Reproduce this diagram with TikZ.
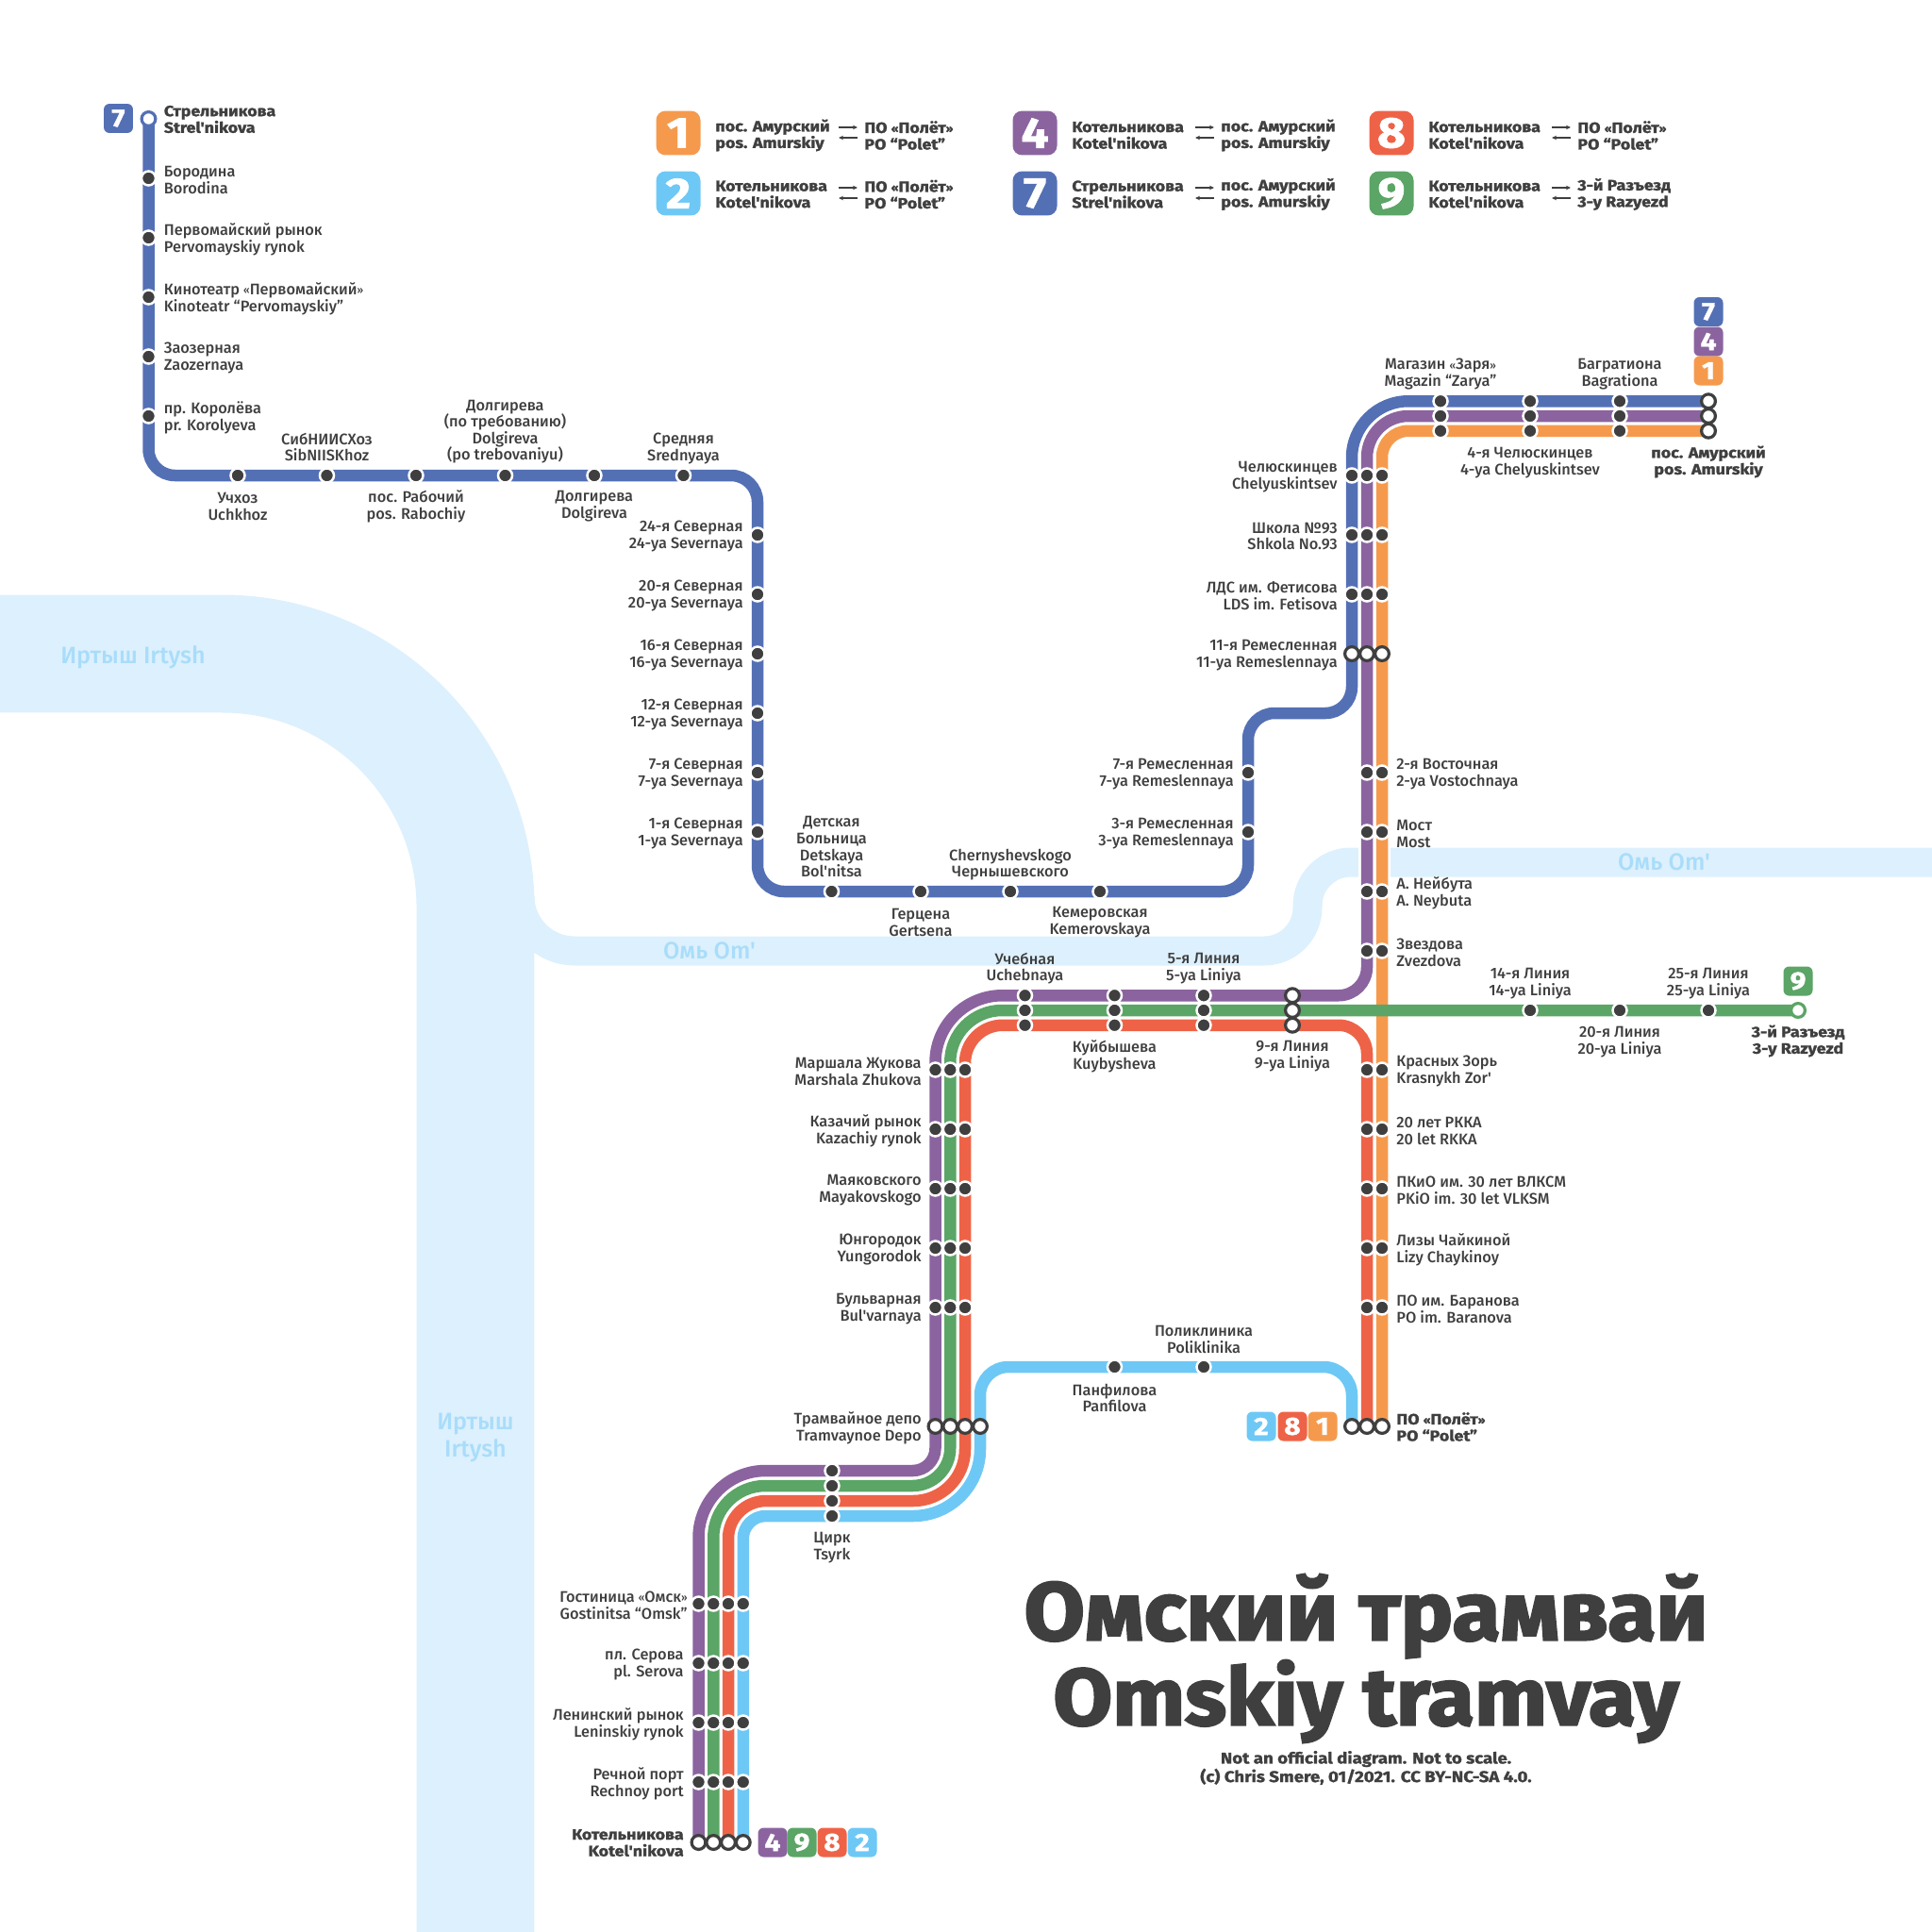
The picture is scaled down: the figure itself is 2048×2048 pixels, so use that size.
\documentclass[tikz,border=0pt]{standalone}
\usepackage{fontspec}
\newfontfamily\namefont{Fira Sans Medium}
\newfontfamily\heavyfont[FakeBold=1.5,FakeStretch=1.13]{Fira Sans Bold}
\newfontfamily\titlefont[FakeBold=2.5,FakeStretch=1.07]{Fira Sans Bold}
\setmainfont{Fira Sans Medium}
\newcommand{\gopen}{\raisebox{0.4pt}{\fontsize{6.2}{10}\selectfont «}}
\newcommand{\gclose}{\raisebox{0.4pt}{\fontsize{6.2}{10}\selectfont »}}
\usetikzlibrary{arrows.meta,backgrounds,positioning}
\definecolor{lineblue}{HTML}{5470B5}
\definecolor{linepurple}{HTML}{8B649F}
\definecolor{lineorange}{HTML}{F59A4D}
\definecolor{linesky}{HTML}{6EC8F5}
\definecolor{linered}{HTML}{EE6347}
\definecolor{linegreen}{HTML}{5BA566}
\definecolor{inkgrey}{HTML}{3F3F3F}
\definecolor{riverblue}{HTML}{DDF0FD}
\definecolor{rivertext}{HTML}{A8DDFA}

\begin{document}
\begin{tikzpicture}[x=0.02cm,y=-0.02cm,
		stopdot/.style={circle, fill=inkgrey, draw=white, line width=0.05cm, minimum size=0.3cm, inner sep=0pt},
		endstop/.style={circle, fill=white, draw=inkgrey, line width=0.064cm, minimum size=0.296cm, inner sep=0pt},
		stationname/.style={inner sep=0pt, yshift=-0.035cm, text=inkgrey, font=\namefont\fontsize{9.3}{10}\selectfont},
		nameleft/.style={stationname, anchor=east, align=right},
		nameright/.style={stationname, anchor=west, align=left},
		nameup/.style={stationname, align=center},
		heavyname/.style={yshift=0.025cm, font=\heavyfont\fontsize{9}{10}\selectfont},
		tram/.style={line width=0.25cm},
		river/.style={draw=riverblue, line width=0.62cm},
		rivername/.style={inner sep=0pt, align=center, text=rivertext, font=\namefont\fontsize{14.3}{16}\selectfont},
		badge/.style={fill=#1, text=white, rounded corners=0.12cm, minimum size=0.62cm, inner sep=0pt, font=\heavyfont\fontsize{15}{15}\selectfont},
		bigbadge/.style={fill=#1, text=white, rounded corners=0.2cm, minimum size=0.94cm, inner sep=0pt, font=\heavyfont\fontsize{26}{26}\selectfont},
		legendname/.style={inner sep=0pt, anchor=west, align=left, text=inkgrey, font=\heavyfont\fontsize{9}{10}\selectfont},
		flow/.style={-{Stealth[length=0.1cm,width=0.09cm]}, inkgrey, line width=0.04cm}
		]
	
	\useasboundingbox (0,0) rectangle (2048,2048);
	
	% line 7, north branch
	\node[endstop, draw=lineblue] (strel) at (157.5,126) {};
	\foreach \n/\p in {borod/189,perv/252,kino/315,zaoz/378,korol/441}
		\node[stopdot] (\n) at (157.5,\p) {};
	\foreach \n/\p in {uch/252,sib/346.5,rab/441,dolgb/535.5,dolg/630,sred/724.5}
		\node[stopdot] (\n) at (\p,504) {};
	\foreach \n/\p in {seva/567,sevb/630,sevc/693,sevd/756,seve/819,sevf/882}
		\node[stopdot] (\n) at (803,\p) {};
	\foreach \n/\p in {det/881.5,ger/976,che/1071,kem/1166}
		\node[stopdot] (\n) at (\p,945) {};
	\foreach \n/\p in {remb/819,remc/882}
		\node[stopdot] (\n) at (1323,\p) {};
	
	% north-east trunk
	\foreach \n/\p in {a/504,b/567,c/630}{
		\node[stopdot] (nb\n) at (1433,\p) {};
		\node[stopdot] (np\n) at (1449,\p) {};
		\node[stopdot] (no\n) at (1465,\p) {};
	}
	\node[endstop] (rema) at (1433,693) {};
	\node[endstop] (remp) at (1449,693) {};
	\node[endstop] (remo) at (1465,693) {};
	\foreach \n/\p in {a/1527,b/1622,c/1717}{
		\node[stopdot] (tb\n) at (\p,425.25) {};
		\node[stopdot] (tp\n) at (\p,441) {};
		\node[stopdot] (to\n) at (\p,456.75) {};
	}
	\node[endstop] (amb) at (1811,425.25) {};
	\node[endstop] (amp) at (1811,441) {};
	\node[endstop] (amo) at (1811,456.75) {};
	\foreach \n/\p in {a/819,b/882,c/945,d/1008}{
		\node[stopdot] (mp\n) at (1449,\p) {};
		\node[stopdot] (mo\n) at (1465,\p) {};
	}
	
	% cross line 9
	\foreach \n/\p in {a/1086.5,b/1181.5,c/1276}{
		\node[stopdot] (xp\n) at (\p,1055.25) {};
		\node[stopdot] (xg\n) at (\p,1071) {};
		\node[stopdot] (xr\n) at (\p,1086.75) {};
	}
	\node[endstop] (lnp) at (1370,1055.25) {};
	\node[endstop] (lng) at (1370,1071) {};
	\node[endstop] (lnr) at (1370,1086.75) {};
	\foreach \n/\p in {la/1622,lb/1717,lc/1811}
		\node[stopdot] (\n) at (\p,1071) {};
	\node[endstop, draw=linegreen] (razd) at (1906,1071) {};
	
	% south trunks
	\foreach \n/\p in {a/1134,b/1197,c/1260,d/1323,e/1386}{
		\node[stopdot] (wp\n) at (991.5,\p) {};
		\node[stopdot] (wg\n) at (1007.25,\p) {};
		\node[stopdot] (wr\n) at (1023,\p) {};
		\node[stopdot] (er\n) at (1449,\p) {};
		\node[stopdot] (eo\n) at (1465,\p) {};
	}
	\node[endstop] (depp) at (991.5,1512) {};
	\node[endstop] (depg) at (1007.25,1512) {};
	\node[endstop] (depr) at (1023,1512) {};
	\node[endstop] (deps) at (1039,1512) {};
	\node[endstop] (pols) at (1433,1512) {};
	\node[endstop] (polr) at (1449,1512) {};
	\node[endstop] (polo) at (1465,1512) {};
	\node[stopdot] (panf) at (1181.5,1449) {};
	\node[stopdot] (polk) at (1276,1449) {};
	\node[stopdot] (cirp) at (882,1559) {};
	\node[stopdot] (cirg) at (882,1575) {};
	\node[stopdot] (cirr) at (882,1591) {};
	\node[stopdot] (cirs) at (882,1607) {};
	\foreach \n/\p in {a/1700,b/1763,c/1826,d/1889}{
		\node[stopdot] (sp\n) at (740.5,\p) {};
		\node[stopdot] (sg\n) at (756.25,\p) {};
		\node[stopdot] (sr\n) at (772,\p) {};
		\node[stopdot] (ss\n) at (787.75,\p) {};
	}
	\node[endstop] (kotp) at (740.5,1953) {};
	\node[endstop] (kotg) at (756.25,1953) {};
	\node[endstop] (kotr) at (772,1953) {};
	\node[endstop] (kots) at (787.75,1953) {};
	
	% corners of the lines
	\coordinate (ba) at (157.5,504);
	\coordinate (bb) at (803,504);
	\coordinate (bc) at (803,945);
	\coordinate (bd) at (1323,945);
	\coordinate (be) at (1323,756);
	\coordinate (bf) at (1433,756);
	\coordinate (bg) at (1433,425.25);
	\coordinate (pa) at (1449,441);
	\coordinate (pb) at (1449,1055.25);
	\coordinate (pc) at (991.5,1055.25);
	\coordinate (pd) at (991.5,1559);
	\coordinate (pe) at (740.5,1559);
	\coordinate (oa) at (1465,456.75);
	\coordinate (ga) at (1007.25,1071);
	\coordinate (gb) at (1007.25,1575);
	\coordinate (gc) at (756.25,1575);
	\coordinate (ra) at (1449,1086.75);
	\coordinate (rb) at (1023,1086.75);
	\coordinate (rc) at (1023,1591);
	\coordinate (rd) at (772,1591);
	\coordinate (sa) at (1433,1449);
	\coordinate (sb) at (1039,1449);
	\coordinate (sc) at (1039,1607);
	\coordinate (sd) at (787.75,1607);
	\coordinate (gapa) at (1457,860);
	\coordinate (gapb) at (1457,960);
	
	\begin{scope}[on background layer]
		% rivers
		\draw[river, rounded corners=1.16cm] (551,950) -- (551,1008) [rounded corners=0.92cm] -- (1386,1008) -- (1386,914) -- (2048,914);
		\draw[river, line width=2.5cm, rounded corners=5.37cm] (0,693) -- (504,693) -- (504,2048);
		\draw[white, line width=0.68cm] (gapa) -- (gapb);
		% lines
		\draw[tram, lineblue] (strel.center) [rounded corners=0.56cm] -- (ba) -- (bb) -- (bc) -- (bd) -- (be) -- (bf) [rounded corners=1.2cm] -- (bg) -- (amb.center);
		\draw[tram, lineorange] (amo.center) [rounded corners=0.56cm] -- (oa) -- (polo.center);
		\draw[tram, linepurple] (amp.center) [rounded corners=0.88cm] -- (pa) [rounded corners=0.6cm] -- (pb) [rounded corners=1.42cm] -- (pc) [rounded corners=0.48cm] -- (pd) [rounded corners=1.42cm] -- (pe) -- (kotp.center);
		\draw[tram, linered] (polr.center) [rounded corners=0.6cm] -- (ra) [rounded corners=0.8cm] -- (rb) [rounded corners=1.1cm] -- (rc) [rounded corners=0.8cm] -- (rd) -- (kotr.center);
		\draw[tram, linesky] (pols.center) [rounded corners=0.6cm] -- (sa) -- (sb) [rounded corners=1.42cm] -- (sc) [rounded corners=0.48cm] -- (sd) -- (kots.center);
		\draw[tram, linegreen] (razd.center) [rounded corners=1.1cm] -- (ga) [rounded corners=0.8cm] -- (gb) [rounded corners=1.1cm] -- (gc) -- (kotg.center);
	\end{scope}
	
	% river names
	\node[rivername] (irta) at (141,697) {Иртыш Irtysh};
	\node[rivername] (irtb) at (504,1524) {Иртыш\\Irtysh};
	\node[rivername] (oma) at (752,1008) {Омь Om'};
	\node[rivername] (omb) at (1764,914) {Омь Om'};
	
	% station names, line 7
	\node[nameright, heavyname] (tstrel) at (173.5,126) {Стрельникова\\Strel'nikova};
	\node[nameright] (tborod) at (173.5,189) {Бородина\\Borodina};
	\node[nameright] (tperv) at (173.5,252) {Первомайский рынок\\Pervomayskiy rynok};
	\node[nameright] (tkino) at (173.5,315) {Кинотеатр \gopen Первомайский\gclose\\Kinoteatr “Pervomayskiy”};
	\node[nameright] (tzaoz) at (173.5,378) {Заозерная\\Zaozernaya};
	\node[nameright] (tkorol) at (173.5,441) {пр. Королёва\\pr. Korolyeva};
	\node[nameup] (tuch) at (252,535) {Учхоз\\Uchkhoz};
	\node[nameup] (tsib) at (346.5,472) {СибНИИСХоз\\SibNIISKhoz};
	\node[nameup] (trab) at (441,535) {пос. Рабочий\\pos. Rabochiy};
	\node[nameup] (tdolgb) at (535.5,456) {Долгирева\\(по требованию)\\Dolgireva\\(po trebovaniyu)};
	\node[nameup] (tdolg) at (630,535) {Долгирева\\Dolgireva};
	\node[nameup] (tsred) at (724.5,474) {Средняя\\Srednyaya};
	\node[nameleft] (tseva) at (788,567) {24-я Северная\\24-ya Severnaya};
	\node[nameleft] (tsevb) at (788,630) {20-я Северная\\20-ya Severnaya};
	\node[nameleft] (tsevc) at (788,693) {16-я Северная\\16-ya Severnaya};
	\node[nameleft] (tsevd) at (788,756) {12-я Северная\\12-ya Severnaya};
	\node[nameleft] (tseve) at (788,819) {7-я Северная\\7-ya Severnaya};
	\node[nameleft] (tsevf) at (788,882) {1-я Северная\\1-ya Severnaya};
	\node[nameup] (tdet) at (881.5,896) {Детская\\Больница\\Detskaya\\Bol'nitsa};
	\node[nameup] (tger) at (976,976) {Герцена\\Gertsena};
	\node[nameup] (tche) at (1071,915) {Chernyshevskogo\\Чернышевского};
	\node[nameup] (tkem) at (1166,976) {Кемеровская\\Kemerovskaya};
	\node[nameleft] (tremb) at (1308,819) {7-я Ремесленная\\7-ya Remeslennaya};
	\node[nameleft] (tremc) at (1308,882) {3-я Ремесленная\\3-ya Remeslennaya};
	
	% north-east trunk
	\node[nameleft] (tna) at (1418,504) {Челюскинцев\\Chelyuskintsev};
	\node[nameleft] (tnb) at (1418,567) {Школа №93\\Shkola No.93};
	\node[nameleft] (tnc) at (1418,630) {ЛДС им. Фетисова\\LDS im. Fetisova};
	\node[nameleft] (trem) at (1418,693) {11-я Ремесленная\\11-ya Remeslennaya};
	\node[nameup] (tta) at (1527,395) {Магазин \gopen Заря\gclose\\Magazin “Zarya”};
	\node[nameup] (ttb) at (1622,489) {4-я Челюскинцев\\4-ya Chelyuskintsev};
	\node[nameup] (ttc) at (1717,395) {Багратиона\\Bagrationa};
	\node[nameup, heavyname] (tam) at (1811,489) {пос. Амурский\\pos. Amurskiy};
	\node[nameright] (tma) at (1480,819) {2-я Восточная\\2-ya Vostochnaya};
	\node[nameright] (tmb) at (1480,882) {Мост\\Most};
	\node[nameright] (tmc) at (1480,945) {А. Нейбута\\A. Neybuta};
	\node[nameright] (tmd) at (1480,1008) {Звездова\\Zvezdova};
	
	% cross line 9
	\node[nameup] (txa) at (1086.5,1025) {Учебная\\Uchebnaya};
	\node[nameup] (txb) at (1181.5,1118) {Куйбышева\\Kuybysheva};
	\node[nameup] (txc) at (1276,1025) {5-я Линия\\5-ya Liniya};
	\node[nameup] (tln) at (1370,1118) {9-я Линия\\9-ya Liniya};
	\node[nameup] (tla) at (1622,1041) {14-я Линия\\14-ya Liniya};
	\node[nameup] (tlb) at (1717,1103) {20-я Линия\\20-ya Liniya};
	\node[nameup] (tlc) at (1811,1041) {25-я Линия\\25-ya Liniya};
	\node[nameup, heavyname] (trazd) at (1906,1103) {3-й Разъезд\\3-y Razyezd};
	
	% south trunks
	\node[nameleft] (twa) at (977,1134) {Маршала Жукова\\Marshala Zhukova};
	\node[nameleft] (twb) at (977,1197) {Казачий рынок\\Kazachiy rynok};
	\node[nameleft] (twc) at (977,1260) {Маяковского\\Mayakovskogo};
	\node[nameleft] (twd) at (977,1323) {Юнгородок\\Yungorodok};
	\node[nameleft] (twe) at (977,1386) {Бульварная\\Bul'varnaya};
	\node[nameleft] (tdep) at (977,1512) {Трамвайное депо\\Tramvaynoe Depo};
	\node[nameright] (tea) at (1480,1134) {Красных Зорь\\Krasnykh Zor'};
	\node[nameright] (teb) at (1480,1197) {20 лет РККА\\20 let RKKA};
	\node[nameright] (tec) at (1480,1260) {ПКиО им. 30 лет ВЛКСМ\\PKiO im. 30 let VLKSM};
	\node[nameright] (ted) at (1480,1323) {Лизы Чайкиной\\Lizy Chaykinoy};
	\node[nameright] (tee) at (1480,1386) {ПО им. Баранова\\PO im. Baranova};
	\node[nameright, heavyname] (tpol) at (1480,1512) {ПО \gopen Полёт\gclose\\PO “Polet”};
	\node[nameup] (tpanf) at (1181.5,1480) {Панфилова\\Panfilova};
	\node[nameup] (tpolk) at (1276,1418) {Поликлиника\\Poliklinika};
	\node[nameup] (tcir) at (882,1639) {Цирк\\Tsyrk};
	\node[nameleft] (tsa) at (729,1700) {Гостиница \gopen Омск\gclose\\Gostinitsa “Omsk”};
	\node[nameleft] (tsb) at (725,1763) {пл. Серова\\pl. Serova};
	\node[nameleft] (tsc) at (725,1826) {Ленинский рынок\\Leninskiy rynok};
	\node[nameleft] (tsd) at (725,1889) {Речной порт\\Rechnoy port};
	\node[nameleft, heavyname] (tkot) at (725,1953) {Котельникова\\Kotel'nikova};
	
	% small badges
	\node[badge=lineblue] (ba7) at (125.5,125.5) {7};
	\node[badge=lineblue] (bt7) at (1811,330.5) {7};
	\node[badge=linepurple] (bt4) at (1811,362) {4};
	\node[badge=lineorange] (bt1) at (1811,393) {1};
	\node[badge=linegreen] (br9) at (1906,1040) {9};
	\node[badge=linesky] (bp2) at (1337,1512) {2};
	\node[badge=linered] (bp8) at (1370,1512) {8};
	\node[badge=lineorange] (bp1) at (1402,1512) {1};
	\node[badge=linepurple] (bk4) at (819,1953) {4};
	\node[badge=linegreen] (bk9) at (850,1953) {9};
	\node[badge=linered] (bk8) at (882,1953) {8};
	\node[badge=linesky] (bk2) at (914,1953) {2};
	
	% legend
	\foreach \n/\c/\x/\p/\q/\ta/\tb/\ra/\rb in {
		1/lineorange/719/141/143.5/пос. Амурский/pos. Amurskiy/ПО \gopen Полёт\gclose/PO “Polet”,
		2/linesky/719/205/206/Котельникова/Kotel'nikova/ПО \gopen Полёт\gclose/PO “Polet”,
		4/linepurple/1097/141/143.5/Котельникова/Kotel'nikova/пос. Амурский/pos. Amurskiy,
		7/lineblue/1097/205/206/Стрельникова/Strel'nikova/пос. Амурский/pos. Amurskiy,
		8/linered/1475/141/143.5/Котельникова/Kotel'nikova/ПО \gopen Полёт\gclose/PO “Polet”,
		9/linegreen/1475/205/206/Котельникова/Kotel'nikova/3-й Разъезд/3-y Razyezd}{
		\node[bigbadge=\c] (leg\n) at (\x,\p) {\n};
		\node[legendname] (lega\n) at (\x+39,\q) {\ta\\\tb};
		\node[legendname] (legb\n) at (\x+197,\q) {\ra\\\rb};
		\coordinate (arra\n) at (\x+170,\p-6);
		\coordinate (arrb\n) at (\x+190,\p-6);
		\coordinate (arrc\n) at (\x+170,\p+5);
		\coordinate (arrd\n) at (\x+190,\p+5);
		\draw[flow] (arra\n) -- (arrb\n);
		\draw[flow] (arrd\n) -- (arrc\n);
	}
	
	% title
	\node[inner sep=0pt, align=center, text=inkgrey, font=\titlefont\fontsize{49.6}{50}\selectfont] (title) at (1448,1758) {Омский трамвай\\\fontsize{48.4}{50}\selectfont Omskiy tramvay};
	\node[inner sep=0pt, align=center, text=inkgrey, font=\heavyfont\fontsize{9.4}{10}\selectfont] (credit) at (1448,1874) {Not an official diagram. Not to scale.\\(c) Chris Smere, 01/2021. CC BY-NC-SA 4.0.};
	
\end{tikzpicture}
\end{document}
